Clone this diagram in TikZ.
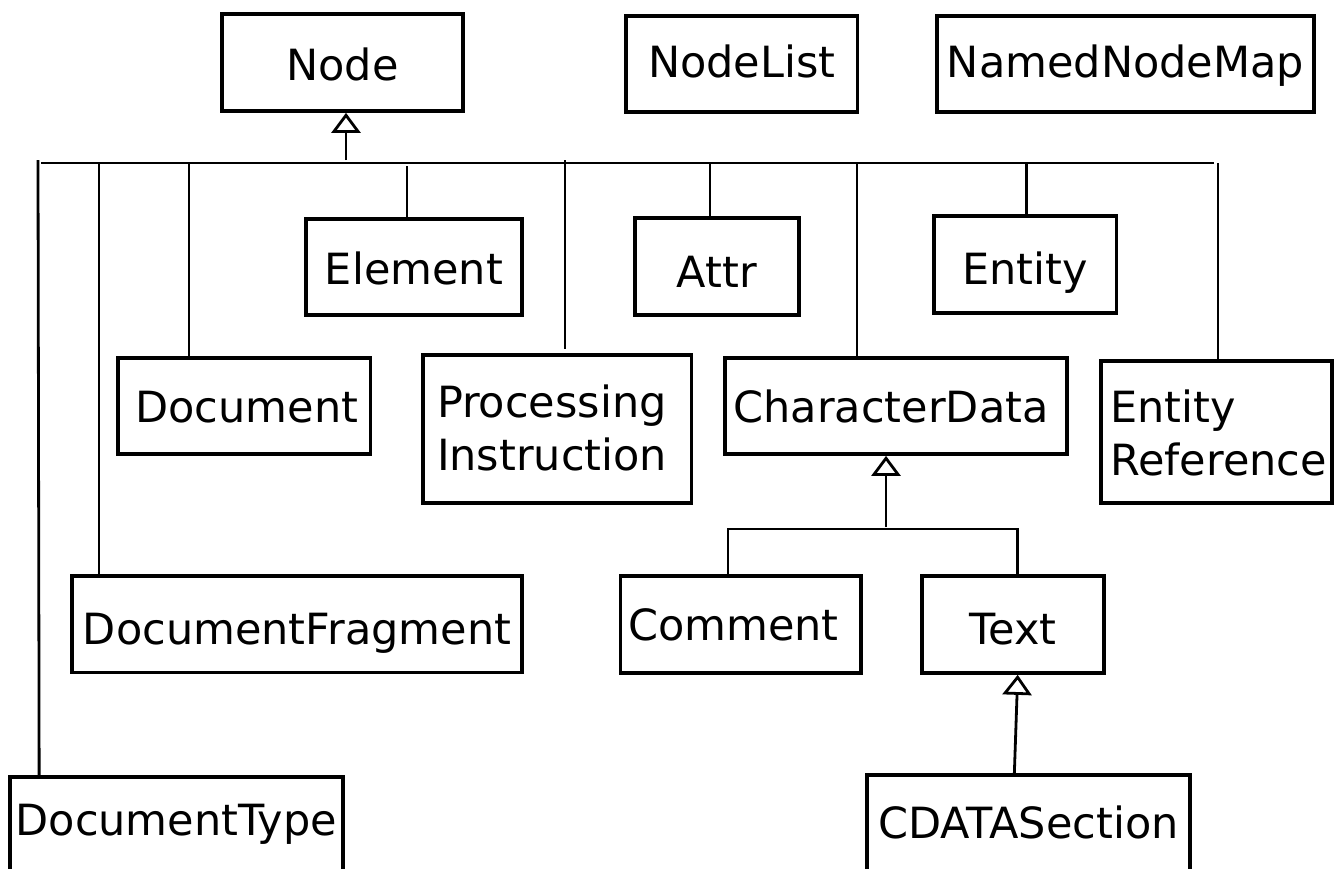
\documentclass[tikz,border=0pt]{standalone}
\usepackage{fontspec}
\setmainfont{DejaVu Sans}
\usetikzlibrary{arrows.meta}
\begin{document}
\begin{tikzpicture}[x=1pt,y=-1pt,
  box/.style={draw, line width=3.7pt, inner sep=0pt, font=\fontsize{43}{53}\selectfont, text depth=0pt},
  conn/.style={line width=2.8pt},
  inh/.style={conn, -{Triangle[open, length=20pt, width=29pt]}}]
\clip (0,0) rectangle (1335,868);
% top row
\node[box, minimum width=241pt, minimum height=97pt, text height=35pt] (nd) at (342.5,62.5) {Node};
\node[box, minimum width=231.5pt, minimum height=96pt, text height=26pt] (nl) at (741.75,64) {NodeList};
\node[box, minimum width=377pt, minimum height=96pt, text height=26pt] (nnm) at (1125.5,64) {NamedNodeMap};
% second row
\node[box, minimum width=216pt, minimum height=96pt, text height=34pt] (el) at (414,267) {Element};
\node[box, minimum width=164pt, minimum height=97pt, text height=41.6pt] (at) at (717,266.5) {Attr};
\node[box, minimum width=182.6pt, minimum height=97pt, text height=39.6pt] (en) at (1025.3,264.5) {Entity};
% third row
\node[box, minimum width=252.5pt, minimum height=96pt, text width=230pt, align=center, text height=33pt] (doc) at (244.25,406) {\hspace*{5pt}Document};
\node[box, minimum width=268.5pt, minimum height=148pt, text width=240.5pt, align=left, text height=0pt, text depth=23pt] (pi) at (557.25,429) {Processing\\Instruction};
\node[box, minimum width=342pt, minimum height=96pt, text width=324.8pt, align=left, text height=32pt] (cd) at (896,406) {CharacterData};
\node[box, minimum width=230.7pt, minimum height=142pt, text width=212pt, align=left, text height=0pt, text depth=20pt] (er) at (1216.35,432) {Entity\\Reference};
% fourth row
\node[box, minimum width=450pt, minimum height=96.5pt, text height=39.5pt] (df) at (297,624.25) {DocumentFragment};
\node[box, minimum width=240.2pt, minimum height=97pt, text width=225pt, align=left, text height=32pt] (cm) at (740.6,624.5) {Comment};
\node[box, minimum width=182pt, minimum height=97pt, text height=39pt] (txt) at (1013,624.5) {Text};
% bottom row
\node[box, minimum width=332.7pt, minimum height=96pt, text height=20pt] (dt) at (176.35,825) {DocumentType};
\node[box, minimum width=323.3pt, minimum height=96pt, text height=30pt] (cds) at (1028.35,823) {CDATASection};
% bus to Node
\coordinate (busL) at (41,163);
\coordinate (busR) at (1213.5,163);
\draw[conn] (busL) -- (busR);
\coordinate (jn) at (346,160);
\draw[inh] (jn) -- (jn |- nd.south);
% children of Node
\coordinate (vDT) at (38,160);
\draw[conn] (vDT) -- ([xshift=31pt]dt.north west);
\coordinate (vDF) at (99,163);
\draw[conn] (vDF) -- (vDF |- df.north);
\coordinate (vDoc) at (189,163);
\draw[conn] (vDoc) -- (vDoc |- doc.north);
\coordinate (vEl) at (407,166);
\draw[conn] (vEl) -- (vEl |- el.north);
\coordinate (vPI) at (565,160);
\draw[conn] (vPI) -- ([yshift=4.5pt]vPI |- pi.north);
\coordinate (vAt) at (710,163);
\draw[conn] (vAt) -- (vAt |- at.north);
\coordinate (vCD) at (857,163);
\draw[conn] (vCD) -- (vCD |- cd.north);
\coordinate (vEn) at (1026.6,163);
\draw[conn] (vEn) -- (vEn |- en.north);
\coordinate (vER) at (1218,163);
\draw[conn] (vER) -- (vER |- er.north);
% CharacterData subtree
\coordinate (cdJ) at (886,527);
\draw[inh] (cdJ) -- (cdJ |- cd.south);
\coordinate (cbL) at (728,529);
\coordinate (cbR) at (1017.7,529);
\draw[conn] (cbL |- cm.north) -- (cbL) -- (cbR) -- (cbR |- txt.north);
% Text subtree
\draw[inh] ([xshift=-14pt]cds.north) -- ([xshift=4.7pt]txt.south);
\end{tikzpicture}
\end{document}
